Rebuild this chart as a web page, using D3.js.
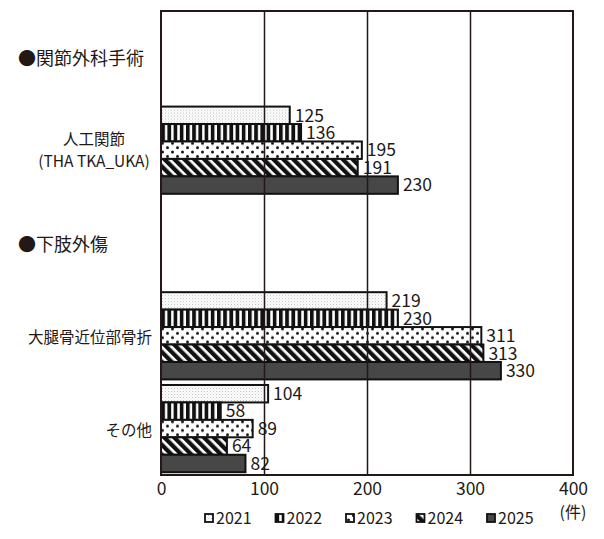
<!DOCTYPE html>
<html>
<head>
<meta charset="utf-8">
<script src="https://cdn.jsdelivr.net/npm/d3@7"></script>
<style>
  body { margin: 0; background: #fff; }
  text { font-family: "Noto Sans CJK JP", "Noto Sans", sans-serif; fill: #231815; }
</style>
</head>
<body>
<svg id="chart" width="604" height="539"></svg>
<script>
// rows of the chart: section headers have no bars
var rows = ["h1", "jinko", "h2", "daitai", "sonota"];
var headers = {h1: "●関節外科手術", h2: "●下肢外傷"};
var years = ["2021", "2022", "2023", "2024", "2025"];
var jinko = [125, 136, 195, 191, 230];
var daitai = [219, 230, 311, 313, 330];
var sonota = [104, 58, 89, 64, 82];
var xTicks = [0, 100, 200, 300, 400];

var values = {jinko: jinko, daitai: daitai, sonota: sonota};
var ink = "#231815";

var svg = d3.select("#chart");
var plotLeft = 161, plotRight = 573, plotTop = 11, plotBottom = 475;

var x = d3.scaleLinear().domain([0, 400]).range([plotLeft, plotRight]);
var y0 = d3.scaleBand().domain(rows).range([plotTop, plotBottom])
    .paddingInner(0.06).paddingOuter(0.03);
var y1 = d3.scaleBand().domain(years).range([0, y0.bandwidth()]);

// patterns
var defs = svg.append("defs");

var p = defs.append("pattern").attr("id", "p2021").attr("patternUnits", "userSpaceOnUse")
    .attr("width", 3).attr("height", 3);
p.append("rect").attr("width", 3).attr("height", 3).attr("fill", "#fff");
p.append("rect").attr("x", 0).attr("y", 0).attr("width", 1).attr("height", 1).attr("fill", "#bdbdbd");
p.append("rect").attr("x", 1.5).attr("y", 1.5).attr("width", 1).attr("height", 1).attr("fill", "#d4d4d4");

p = defs.append("pattern").attr("id", "p2022").attr("patternUnits", "userSpaceOnUse")
    .attr("width", 6.2).attr("height", 10);
p.append("rect").attr("width", 6.2).attr("height", 10).attr("fill", "#fff");
p.append("rect").attr("width", 3.7).attr("height", 10).attr("fill", "#111");

p = defs.append("pattern").attr("id", "p2023").attr("patternUnits", "userSpaceOnUse")
    .attr("width", 10).attr("height", 8.7);
p.append("rect").attr("width", 10).attr("height", 8.7).attr("fill", "#fff");
p.append("circle").attr("cx", 2.5).attr("cy", 2).attr("r", 1.5).attr("fill", "#111");
p.append("circle").attr("cx", 7.5).attr("cy", 6.35).attr("r", 1.5).attr("fill", "#111");

p = defs.append("pattern").attr("id", "p2024").attr("patternUnits", "userSpaceOnUse")
    .attr("width", 7).attr("height", 10).attr("patternTransform", "rotate(-45)");
p.append("rect").attr("width", 7).attr("height", 10).attr("fill", "#fff");
p.append("rect").attr("width", 4.3).attr("height", 10).attr("fill", "#111");

var fills = {"2021": "url(#p2021)", "2022": "url(#p2022)", "2023": "url(#p2023)",
             "2024": "url(#p2024)", "2025": "#474747"};

// bars
var groups = svg.append("g").selectAll("g")
    .data(rows.filter(function(r) { return values[r]; }))
    .enter().append("g")
    .attr("transform", function(r) { return "translate(0," + y0(r) + ")"; });

groups.selectAll("rect")
    .data(function(r) { return values[r].map(function(v, i) { return {year: years[i], v: v}; }); })
    .enter().append("rect")
    .attr("x", x(0))
    .attr("y", function(d) { return y1(d.year); })
    .attr("width", function(d) { return x(d.v) - x(0); })
    .attr("height", y1.bandwidth())
    .attr("fill", function(d) { return fills[d.year]; })
    .attr("stroke", "#111")
    .attr("stroke-width", 2);

groups.selectAll("text")
    .data(function(r) { return values[r].map(function(v, i) { return {year: years[i], v: v}; }); })
    .enter().append("text")
    .attr("x", function(d) { return x(d.v) + 5; })
    .attr("y", function(d) { return y1(d.year) + y1.bandwidth() / 2; })
    .attr("dy", "0.36em")
    .attr("font-size", 17.5)
    .text(function(d) { return d.v; });

// grid lines (drawn over the bars, as in the print)
svg.append("g")
    .attr("transform", "translate(0," + plotBottom + ")")
    .call(d3.axisBottom(x).tickValues([100, 200, 300]).tickSize(-(plotBottom - plotTop)).tickFormat(""))
    .call(function(g) { g.select(".domain").remove(); })
    .selectAll("line").attr("stroke", ink).attr("stroke-width", 1.5);

// frame
svg.append("rect")
    .attr("x", plotLeft).attr("y", plotTop)
    .attr("width", plotRight - plotLeft).attr("height", plotBottom - plotTop)
    .attr("fill", "none").attr("stroke", ink).attr("stroke-width", 2);

// x axis labels
var ax = svg.append("g")
    .attr("transform", "translate(0," + plotBottom + ")")
    .call(d3.axisBottom(x).tickValues(xTicks).tickSize(0).tickPadding(8));
ax.select(".domain").remove();
ax.selectAll("text").attr("font-size", 17.5).attr("fill", ink)
    .style("font-family", '"Noto Sans CJK JP", sans-serif');

svg.append("text").attr("x", x(400)).attr("y", 511)
    .attr("text-anchor", "middle").attr("dominant-baseline", "central")
    .attr("font-size", 16).text("(件)");

// row labels
svg.selectAll("text.header")
    .data(["h1", "h2"])
    .enter().append("text")
    .classed("header", true)
    .attr("x", 18)
    .attr("y", function(r) { return y0(r) + y0.bandwidth() / 2; })
    .attr("dominant-baseline", "central")
    .attr("font-size", 18)
    .text(function(r) { return headers[r]; });

var jl = svg.append("text")
    .attr("x", 94)
    .attr("y", y0("jinko") + y0.bandwidth() / 2)
    .attr("text-anchor", "middle")
    .attr("font-size", 15.5);
jl.append("tspan").attr("x", 94).attr("dy", "-0.35em").text("人工関節");
jl.append("tspan").attr("x", 94).attr("dy", "1.45em").text("(THA TKA_UKA)");

svg.selectAll("text.cat")
    .data([["daitai", "大腿骨近位部骨折"], ["sonota", "その他"]])
    .enter().append("text")
    .classed("cat", true)
    .attr("x", 152)
    .attr("y", function(d) { return y0(d[0]) + y0.bandwidth() / 2; })
    .attr("text-anchor", "end")
    .attr("dominant-baseline", "central")
    .attr("font-size", 15.5)
    .text(function(d) { return d[1]; });

// legend
var leg = svg.append("g").selectAll("g")
    .data(years)
    .enter().append("g")
    .attr("transform", function(d, i) { return "translate(" + (205 + i * 70.5) + ",518)"; });

leg.append("rect")
    .attr("x", 0).attr("y", -4)
    .attr("width", 8).attr("height", 8)
    .attr("fill", function(d) { return fills[d]; })
    .attr("stroke", "#111").attr("stroke-width", 1.8);

leg.append("text")
    .attr("x", 11).attr("y", 0)
    .attr("dy", "0.36em")
    .attr("font-size", 16)
    .text(function(d) { return d; });
</script>
</body>
</html>
